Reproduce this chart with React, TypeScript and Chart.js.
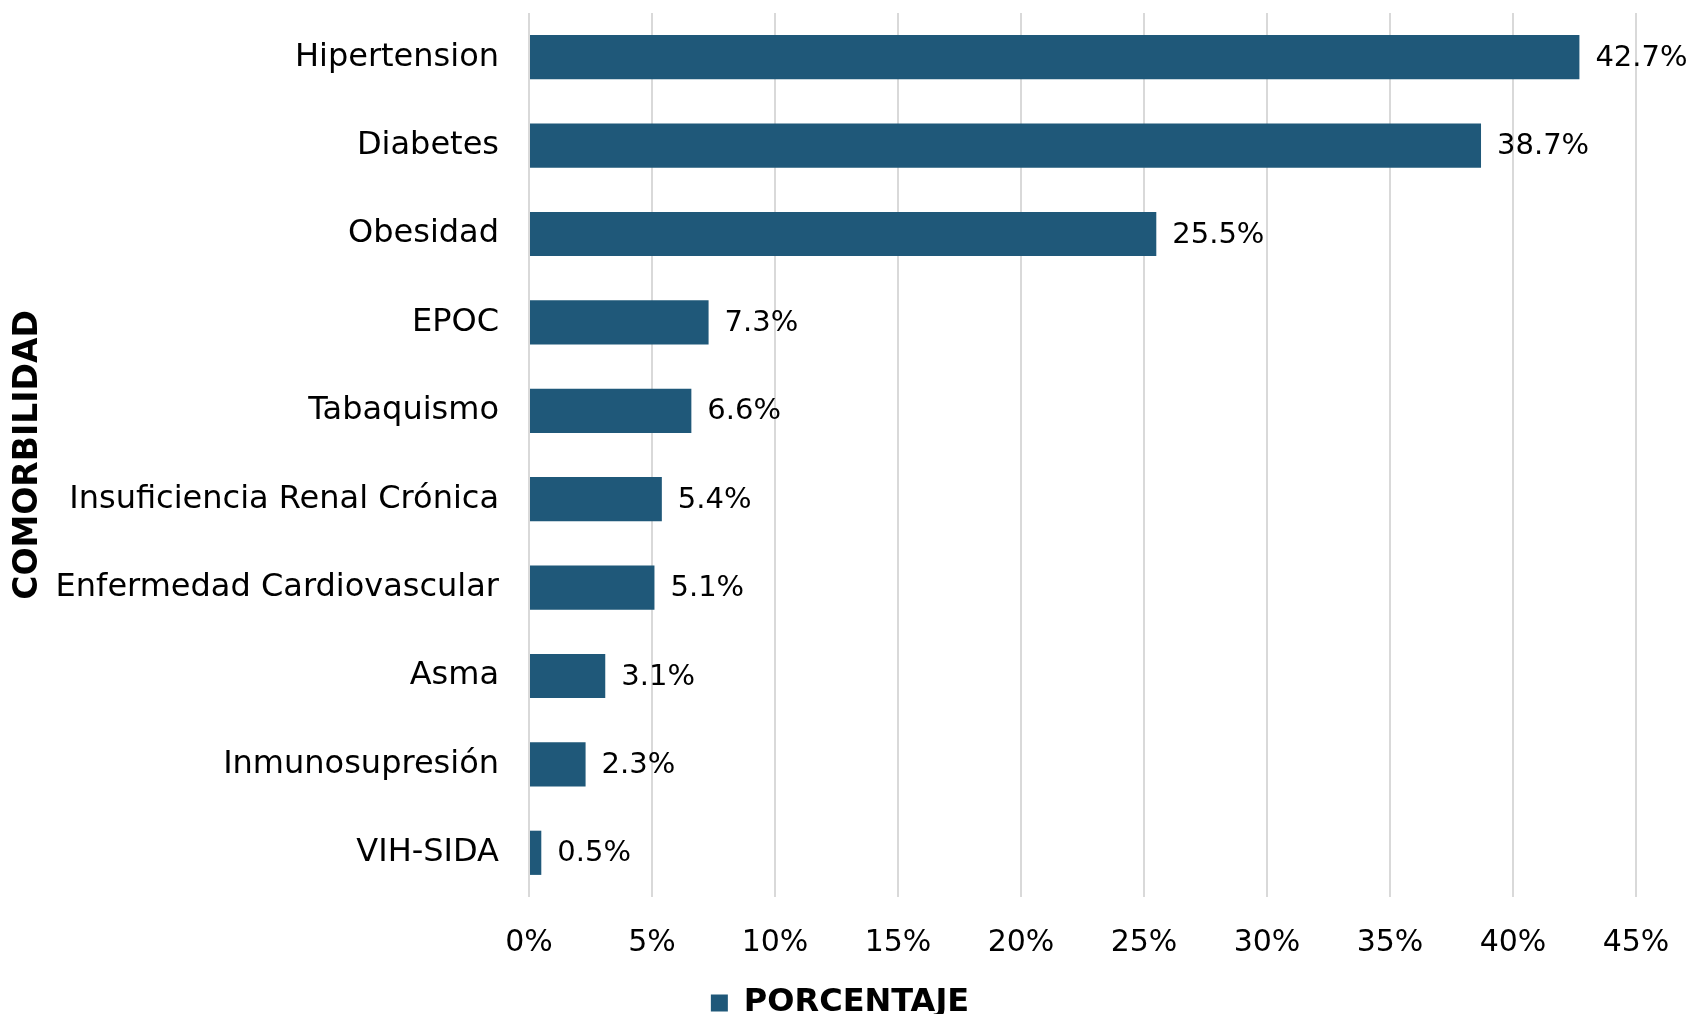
import React, { useEffect, useRef } from 'react';
import { Chart, registerables } from 'chart.js';

Chart.register(...registerables);

const categories = [
  'Hipertension',
  'Diabetes',
  'Obesidad',
  'EPOC',
  'Tabaquismo',
  'Insuficiencia Renal Crónica',
  'Enfermedad Cardiovascular',
  'Asma',
  'Inmunosupresión',
  'VIH-SIDA',
];
const values = [42.7, 38.7, 25.5, 7.3, 6.6, 5.4, 5.1, 3.1, 2.3, 0.5];
const seriesName = 'PORCENTAJE';
const axisTitle = 'COMORBILIDAD';
const xMin = 0;
const xMax = 45;
const xStep = 5;

const FONT = '"DejaVu Sans", sans-serif';
const BAR_COLOR = '#1F5879';
const TEXT_COLOR = '#000000';

const valueLabels = {
  id: 'valueLabels',
  afterDatasetsDraw(chart: any) {
    const ctx = chart.ctx;
    const meta = chart.getDatasetMeta(0);
    ctx.save();
    ctx.font = `400 29px ${FONT}`;
    ctx.fillStyle = TEXT_COLOR;
    ctx.textAlign = 'left';
    ctx.textBaseline = 'middle';
    meta.data.forEach((el: any, i: number) => {
      const v = chart.data.datasets[0].data[i];
      ctx.fillText(v.toFixed(1) + '%', el.x + 16, el.y + 1);
    });
    ctx.restore();
  },
};

export default function App() {
  const ref = useRef<HTMLCanvasElement | null>(null);
  useEffect(() => {
    if (!ref.current) return;
    const chart = new Chart(ref.current, {
      type: 'bar',
      data: {
        labels: categories,
        datasets: [
          {
            label: seriesName,
            data: values,
            backgroundColor: BAR_COLOR,
            borderWidth: 0,
            barPercentage: 0.5,
            categoryPercentage: 1,
          },
        ],
      },
      options: {
        indexAxis: 'y',
        animation: false,
        responsive: true,
        maintainAspectRatio: false,
        layout: { padding: { top: 13, right: 11, bottom: -15, left: 0 } },
        plugins: {
          legend: {
            display: true,
            position: 'bottom',
            labels: {
              boxWidth: 17,
              boxHeight: 17,
              padding: 0,
              color: TEXT_COLOR,
              font: { family: FONT, size: 32, weight: 'bold' },
            },
          },
          tooltip: { enabled: false },
        },
        scales: {
          x: {
            type: 'linear',
            min: xMin,
            max: xMax,
            ticks: {
              stepSize: xStep,
              padding: 28,
              color: TEXT_COLOR,
              font: { family: FONT, size: 30 },
              callback: (v: any) => v + '%',
            },
            grid: { color: '#D9D9D9', lineWidth: 2, drawTicks: false },
            border: { display: false },
            afterFit: (s: any) => {
              s.height = 90;
              s.paddingLeft = 0;
              s.paddingRight = 55;
            },
          },
          y: {
            type: 'category',
            ticks: {
              padding: 30,
              color: TEXT_COLOR,
              font: { family: FONT, size: 32 },
            },
            grid: { display: false, drawTicks: false },
            border: { display: false },
            title: {
              display: true,
              text: axisTitle,
              color: TEXT_COLOR,
              font: { family: FONT, size: 33, weight: 'bold' },
              padding: { top: 9, bottom: 0 },
            },
            afterFit: (s: any) => {
              s.width = 529;
              s.paddingTop = 0;
              s.paddingBottom = 0;
            },
          },
        },
      },
      plugins: [valueLabels],
    });
    return () => chart.destroy();
  }, []);
  return (
    <div style={{ position: 'absolute', left: 0, top: 0, width: 1691, height: 1014 }}>
      <canvas ref={ref} />
    </div>
  );
}
